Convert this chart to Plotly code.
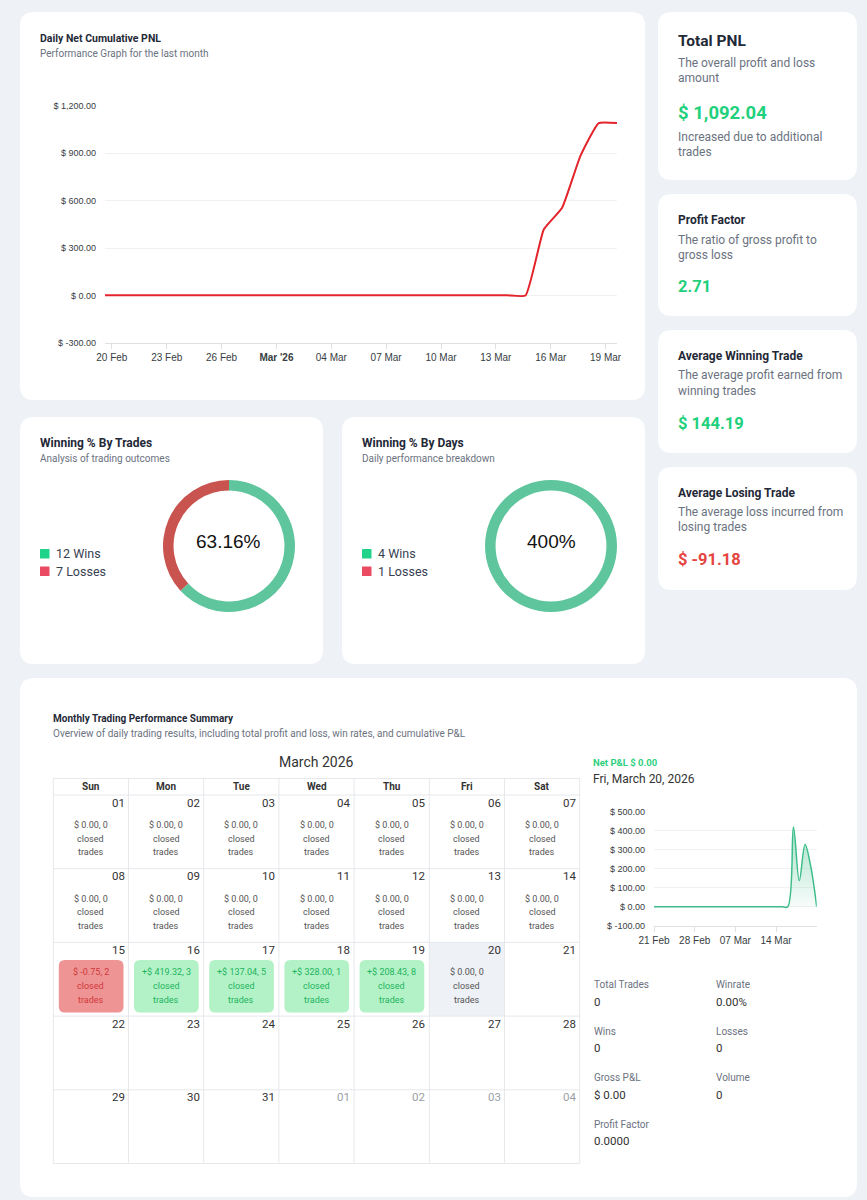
import plotly.graph_objects as go
import pandas as pd
import numpy as np

W, H = 867, 1200

# ---------------- data ----------------
DATES = list(pd.date_range("2026-02-20", "2026-03-20", freq="D"))
DAILY_PNL = [0.00, 0.00, 0.00, 0.00, 0.00, 0.00, 0.00, 0.00, 0.00,          # 20-28 Feb
             0.00, 0.00, 0.00, 0.00, 0.00, 0.00, 0.00, 0.00, 0.00, 0.00,    # 01-10 Mar
             0.00, 0.00, 0.00, 0.00,                                        # 11-14 Mar
             -0.75, 419.32, 137.04, 328.00, 208.43, 0.00]                   # 15-20 Mar
CAL_TRADES = [0, 0, 0, 0, 0, 0, 0, 0, 0, 0, 0, 0, 0, 0, 2, 3, 5, 1, 8, 0]   # 01-20 Mar

MAIN_TICK_DATES = ["2026-02-20", "2026-02-23", "2026-02-26", "2026-03-01", "2026-03-04",
                   "2026-03-07", "2026-03-10", "2026-03-13", "2026-03-16", "2026-03-19"]
MAIN_TICK_LABELS = ["20 Feb", "23 Feb", "26 Feb", "<b>Mar '26</b>", "04 Mar",
                    "07 Mar", "10 Mar", "13 Mar", "16 Mar", "19 Mar"]
MAIN_Y_TICKS = [-300, 0, 300, 600, 900, 1200]

SMALL_TICK_DATES = ["2026-02-21", "2026-02-28", "2026-03-07", "2026-03-14"]
SMALL_TICK_LABELS = ["21 Feb", "28 Feb", "07 Mar", "14 Mar"]
SMALL_Y_TICKS = [-100, 0, 100, 200, 300, 400, 500]

KPI_TITLES = ["Total PNL", "Profit Factor", "Average Winning Trade", "Average Losing Trade"]
KPI_DESC = [["The overall profit and loss", "amount"],
            ["The ratio of gross profit to", "gross loss"],
            ["The average profit earned from", "winning trades"],
            ["The average loss incurred from", "losing trades"]]
KPI_VALUES = ["$ 1,092.04", "2.71", "$ 144.19", "$ -91.18"]

TRADE_WINS, TRADE_LOSSES, TRADE_WIN_PCT = 12, 7, 63.16
DAY_WINS, DAY_LOSSES, DAY_WIN_PCT = 4, 1, 400

WEEKDAYS = ["Sun", "Mon", "Tue", "Wed", "Thu", "Fri", "Sat"]
STAT_LABELS = ["Total Trades", "Winrate", "Wins", "Losses", "Gross P&L", "Volume", "Profit Factor"]
STAT_VALUES = ["0", "0.00%", "0", "0", "$ 0.00", "0", "0.0000"]

# ---------------- style ----------------
BG = "#eef1f6"
UI = "Roboto, sans-serif"
CH = "Arial, 'Liberation Sans', Helvetica, sans-serif"
DARK = "#1f2937"
GREY = "#6b7280"
GREEN = "#1fd07c"
RED = "#e5443f"

shapes, annotations = [], []


def X(px):
    return px / W


def Y(py):
    return 1 - py / H


def rrect(x0, y0, x1, y1, r, fill):
    p = (f"M{X(x0 + r)},{Y(y0)} L{X(x1 - r)},{Y(y0)} Q{X(x1)},{Y(y0)} {X(x1)},{Y(y0 + r)} "
         f"L{X(x1)},{Y(y1 - r)} Q{X(x1)},{Y(y1)} {X(x1 - r)},{Y(y1)} "
         f"L{X(x0 + r)},{Y(y1)} Q{X(x0)},{Y(y1)} {X(x0)},{Y(y1 - r)} "
         f"L{X(x0)},{Y(y0 + r)} Q{X(x0)},{Y(y0)} {X(x0 + r)},{Y(y0)} Z")
    shapes.append(dict(type="path", path=p, xref="paper", yref="paper",
                       fillcolor=fill, line=dict(width=0), layer="below"))


def rect(x0, y0, x1, y1, fill):
    shapes.append(dict(type="rect", xref="paper", yref="paper", x0=X(x0), x1=X(x1),
                       y0=Y(y1), y1=Y(y0), fillcolor=fill, line=dict(width=0), layer="below"))


def hline(x0, x1, y, color="#e6e8ec"):
    shapes.append(dict(type="line", xref="paper", yref="paper", x0=X(x0), x1=X(x1),
                       y0=Y(y), y1=Y(y), line=dict(color=color, width=1), layer="below"))


def vline(x, y0, y1, color="#e6e8ec"):
    shapes.append(dict(type="line", xref="paper", yref="paper", x0=X(x), x1=X(x),
                       y0=Y(y0), y1=Y(y1), line=dict(color=color, width=1), layer="below"))


def txt(x, y, s, size, color=DARK, bold=False, anchor="left", family=UI):
    if bold:
        s = f"<b>{s}</b>"
    annotations.append(dict(x=X(x), y=Y(y), xref="paper", yref="paper", text=s,
                            showarrow=False, xanchor=anchor, yanchor="middle",
                            borderpad=0, borderwidth=0,
                            font=dict(size=size, color=color, family=family)))


def money(v, sign=False):
    s = f"$ {v:,.2f}"
    if sign and v > 0:
        s = "+" + s
    return s


# ---------------- cards ----------------
rrect(20, 12, 645, 400, 14, "white")
rrect(20, 417, 323, 664, 14, "white")
rrect(342, 417, 645, 664, 14, "white")
rrect(20, 678, 857, 1197, 14, "white")
KPI_BOX = [(12, 180), (194, 316), (330, 453), (467, 590)]
for (y0, y1) in KPI_BOX:
    rrect(658, y0, 857, y1, 14, "white")

# ---------------- main chart ----------------
txt(40, 39, "Daily Net Cumulative PNL", 10.5, DARK, bold=True)
txt(40, 53.5, "Performance Graph for the last month", 10, GREY)

cum = np.cumsum(DAILY_PNL)
main_x = [d - pd.Timedelta(hours=9) for d in DATES]
fig = go.Figure()
fig.add_trace(go.Scatter(x=main_x, y=cum, mode="lines",
                         line=dict(color="#e3242b", width=2, shape="spline", smoothing=0.4),
                         xaxis="x", yaxis="y", hovertemplate="%{y:$,.2f}<extra></extra>"))

# ---------------- KPI cards ----------------
kpi_title_y = [41.5, 220, 356, 493]
kpi_desc_y = [(63, 78), (240, 254.5), (375, 390.5), (512, 527)]
kpi_val_y = [112.5, 287, 423, 559]
for i in range(4):
    txt(678, kpi_title_y[i], KPI_TITLES[i], 15.5 if i == 0 else 12, DARK, bold=True)
    txt(678, kpi_desc_y[i][0], KPI_DESC[i][0], 12, GREY)
    txt(678, kpi_desc_y[i][1], KPI_DESC[i][1], 12, GREY)
    col = RED if KPI_VALUES[i].startswith("$ -") else GREEN
    txt(678, kpi_val_y[i], KPI_VALUES[i], 18.5 if i == 0 else 16.5, col, bold=True)
txt(678, 137, "Increased due to additional", 12, GREY)
txt(678, 152, "trades", 12, GREY)

# ---------------- donuts ----------------
LEG_GREEN, LEG_RED = "#1fd38a", "#ea4a62"
RING_GREEN, RING_RED = "#5ec59c", "#c8534f"
donuts = [
    (20, "Winning % By Trades", "Analysis of trading outcomes", TRADE_WINS, TRADE_LOSSES,
     TRADE_WIN_PCT, f"{TRADE_WIN_PCT:.2f}%", 229),
    (342, "Winning % By Days", "Daily performance breakdown", DAY_WINS, DAY_LOSSES,
     DAY_WIN_PCT, f"{DAY_WIN_PCT:.0f}%", 551),
]
for (cx0, title, sub, w, l, pct, label, cx) in donuts:
    txt(cx0 + 20, 443, title, 12, DARK, bold=True)
    txt(cx0 + 20, 458.5, sub, 10, GREY)
    rrect(cx0 + 20, 549, cx0 + 29.5, 558.5, 0.5, LEG_GREEN)
    rrect(cx0 + 20, 566.5, cx0 + 29.5, 576, 0.5, LEG_RED)
    txt(cx0 + 36, 553.5, f"{w} Wins", 12.5, "#374151")
    txt(cx0 + 36, 571, f"{l} Losses", 12.5, "#374151")
    cy, r = 546, 66
    shown = min(pct, 100)
    fig.add_trace(go.Pie(values=[shown, 100 - shown], labels=["Wins", "Losses"],
                         marker=dict(colors=[RING_GREEN, RING_RED], line=dict(width=0)),
                         hole=0.84, sort=False, direction="clockwise", rotation=0,
                         textinfo="none", showlegend=False,
                         domain=dict(x=[X(cx - r), X(cx + r)], y=[Y(cy + r), Y(cy - r)])))
    txt(cx, 541, label, 19, "#111111", anchor="center", family=CH)

# ---------------- calendar ----------------
txt(53, 718, "Monthly Trading Performance Summary", 10, DARK, bold=True)
txt(53, 733, "Overview of daily trading results, including total profit and loss, win rates, and cumulative P&L",
    10, GREY)
txt(316.5, 762, "March 2026", 14, "#333333", anchor="center")

TX0, TX1 = 53.3, 579.7
CW = (TX1 - TX0) / 7
HEAD_TOP, HEAD_BOT = 778.5, 795
RH = (1163.5 - HEAD_BOT) / 5
cal_pnl = DAILY_PNL[9:]

for i in range(35):
    row, col = divmod(i, 7)
    day = i + 1
    x0 = TX0 + col * CW
    y0 = HEAD_BOT + row * RH
    if day <= len(cal_pnl):
        v = cal_pnl[day - 1]
        if day == len(cal_pnl):
            rect(x0, y0, x0 + CW, y0 + RH, BG)
        elif v > 0:
            rrect(x0 + 5.5, y0 + 17.5, x0 + CW - 5, y0 + RH - 3.5, 6, "#b2f2c6")
        elif v < 0:
            rrect(x0 + 5.5, y0 + 17.5, x0 + CW - 5, y0 + RH - 3.5, 6, "#ee9494")

for k in range(8):
    vline(TX0 + k * CW, HEAD_TOP, HEAD_BOT + 5 * RH)
hline(TX0, TX1, HEAD_TOP)
hline(TX0, TX1, HEAD_BOT)
for k in range(1, 6):
    hline(TX0, TX1, HEAD_BOT + k * RH)

for c, wd in enumerate(WEEKDAYS):
    txt(TX0 + (c + 0.5) * CW, 786.5, wd, 10, "#333333", bold=True, anchor="center")

for i in range(35):
    row, col = divmod(i, 7)
    day = i + 1 if i < 31 else i - 30
    x0 = TX0 + col * CW
    y0 = HEAD_BOT + row * RH
    txt(x0 + CW - 4, y0 + 7.5, f"{day:02d}", 11.5, "#333333" if i < 31 else "#9aa0a6",
        anchor="right")
    if i < len(cal_pnl):
        v = cal_pnl[i]
        n = CAL_TRADES[i]
        if v > 0:
            col_t = "#22b35e"
        elif v < 0:
            col_t = "#d0393b"
        else:
            col_t = "#555555"
        lines = [f"{money(v, sign=True)}, {n}", "closed", "trades"]
        for j, s in enumerate(lines):
            txt(x0 + CW / 2, y0 + 30 + j * 13.6, s, 9, col_t, anchor="center")

# ---------------- right panel ----------------
txt(593, 762.5, "Net P&L $ 0.00", 9.5, "#2fcf7f", bold=True)
txt(593, 778.5, "Fri, March 20, 2026", 12, "#333333")

small_x = [d + pd.Timedelta(days=1) for d in DATES]
fig.add_trace(go.Scatter(x=small_x, y=DAILY_PNL, mode="lines", fill="tozeroy",
                         line=dict(color="#3dbd8a", width=1.5, shape="spline", smoothing=1),
                         fillgradient=dict(type="vertical", start=0, stop=420,
                                           colorscale=[[0, "rgba(61,189,138,0.04)"],
                                                       [1, "rgba(61,189,138,0.45)"]]),
                         xaxis="x2", yaxis="y2", hovertemplate="%{y:$,.2f}<extra></extra>"))

stat_pos = [(594, 984.5), (716, 984.5), (594, 1031), (716, 1031),
            (594, 1077.5), (716, 1077.5), (594, 1124)]
for (sx, sy), lab, val in zip(stat_pos, STAT_LABELS, STAT_VALUES):
    txt(sx, sy, lab, 10, GREY)
    txt(sx, sy + 17, val, 11.5, "#333333")

# ---------------- axes ----------------
fig.update_layout(
    width=W, height=H, margin=dict(l=0, r=0, t=0, b=0, pad=0, autoexpand=False),
    autosize=False,
    paper_bgcolor=BG, plot_bgcolor="rgba(0,0,0,0)", showlegend=False,
    shapes=shapes, annotations=annotations,
    xaxis=dict(domain=[X(105), X(617)], anchor="y", type="date",
               range=[main_x[0], main_x[-1]],
               tickvals=MAIN_TICK_DATES, ticktext=MAIN_TICK_LABELS,
               tickfont=dict(size=10, color="#373d3f", family=CH),
               showgrid=False, showline=True, linecolor="#e0e0e0", linewidth=1,
               ticks="outside", tickcolor="#e0e0e0", ticklen=5, zeroline=False,
               fixedrange=True, automargin=False),
    yaxis=dict(domain=[Y(342.7), Y(106)], anchor="x", range=[-300, 1200],
               tickvals=MAIN_Y_TICKS, ticktext=[money(v) for v in MAIN_Y_TICKS],
               tickfont=dict(size=9, color="#373d3f", family=CH),
               gridcolor="#f1f1f1", zeroline=False, showline=False,
               ticklabelstandoff=8, fixedrange=True, automargin=False),
    xaxis2=dict(domain=[X(654), X(816.7)], anchor="y2", type="date",
                range=[small_x[0], small_x[-1]],
                tickvals=SMALL_TICK_DATES, ticktext=SMALL_TICK_LABELS,
                tickfont=dict(size=10, color="#373d3f", family=CH),
                showgrid=False, showline=True, linecolor="#e0e0e0", linewidth=1,
                ticks="outside", tickcolor="#e0e0e0", ticklen=5, zeroline=False,
                fixedrange=True, automargin=False),
    yaxis2=dict(domain=[Y(925.7), Y(811.7)], anchor="x2", range=[-100, 500],
                tickvals=SMALL_Y_TICKS, ticktext=[money(v) for v in SMALL_Y_TICKS],
                tickfont=dict(size=9, color="#373d3f", family=CH),
                gridcolor="#f1f1f1", zeroline=False, showline=False,
                ticklabelstandoff=8, fixedrange=True, automargin=False),
)

fig.write_html("out.html")
